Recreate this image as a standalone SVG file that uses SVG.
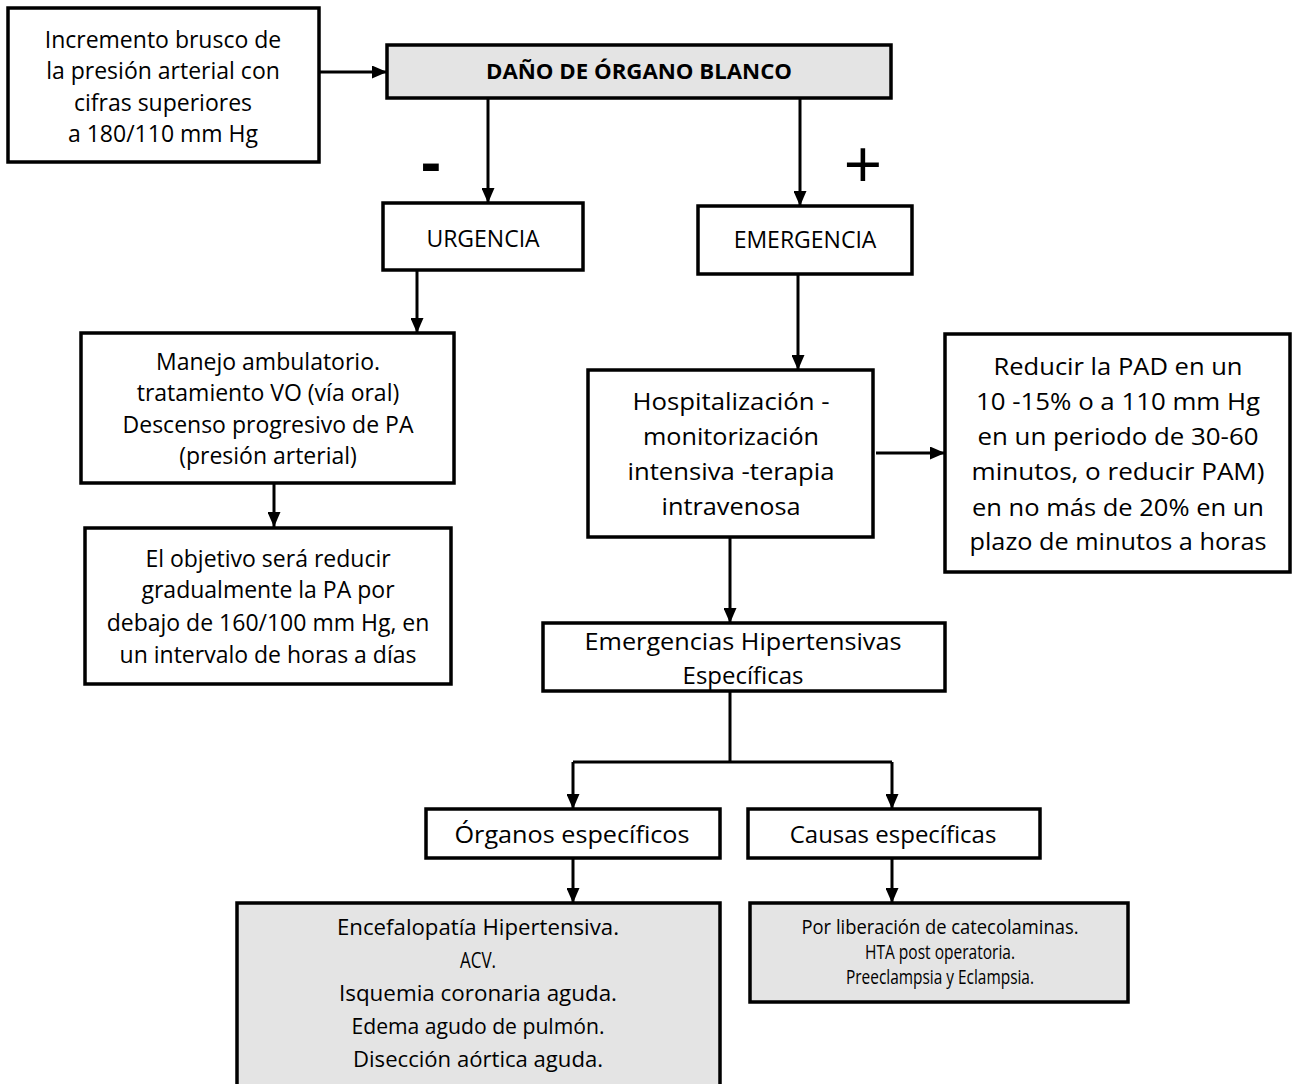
<svg xmlns="http://www.w3.org/2000/svg" width="1295" height="1084" viewBox="0 0 1295 1084">
<style>
.box{fill:#ffffff;stroke:#000000;stroke-width:3.5}
.gray{fill:#e4e4e4;stroke:#000000;stroke-width:3.5}
.t{font-family:"Open Sans","Liberation Sans",sans-serif;font-size:23px;text-anchor:middle;fill:#000000}
.m{font-size:24px}
.s{font-size:21px}
.xs{font-size:20px}
.b{font-weight:bold;font-size:21px}
.edge{stroke:#000000;stroke-width:3;fill:none}
</style>
<defs>
<marker id="ah" viewBox="0 0 15 13" refX="15" refY="6.5" markerWidth="15" markerHeight="13" markerUnits="userSpaceOnUse" orient="auto">
<path d="M0,0 L15,6.5 L0,13 z" fill="#000000"/>
</marker>
</defs>
<rect width="1295" height="1084" fill="#ffffff"/>

<g id="connectors">
<path class="edge" d="M319,72 H387" marker-end="url(#ah)"/>
<path class="edge" d="M488,98 V203" marker-end="url(#ah)"/>
<path class="edge" d="M800,98 V206" marker-end="url(#ah)"/>
<path class="edge" d="M417,270 V333" marker-end="url(#ah)"/>
<path class="edge" d="M274,483 V527" marker-end="url(#ah)"/>
<path class="edge" d="M798,274 V370" marker-end="url(#ah)"/>
<path class="edge" d="M876,453 H945" marker-end="url(#ah)"/>
<path class="edge" d="M730,537 V623" marker-end="url(#ah)"/>
<path class="edge" d="M730,691 V762 M573,762 H892"/>
<path class="edge" d="M573,762 V809" marker-end="url(#ah)"/>
<path class="edge" d="M892,762 V809" marker-end="url(#ah)"/>
<path class="edge" d="M573,858 V903" marker-end="url(#ah)"/>
<path class="edge" d="M892,858 V903" marker-end="url(#ah)"/>
</g>

<g id="n-incremento">
<rect class="box" x="8" y="8" width="311" height="154"/>
<text class="t" x="163" y="48">Incremento brusco de</text>
<text class="t" x="163" y="79">la presión arterial con</text>
<text class="t" x="163" y="111">cifras superiores</text>
<text class="t" x="163" y="142">a 180/110 mm Hg</text>
</g>

<g id="n-dano">
<rect class="gray" x="387" y="45" width="504" height="53"/>
<text class="t b" x="639" y="79" textLength="306" lengthAdjust="spacingAndGlyphs">DAÑO DE ÓRGANO BLANCO</text>
</g>

<g id="sign-minus"><text class="t" x="431" y="184" style="font-size:60px;font-weight:bold">-</text></g>
<g id="sign-plus"><text class="t" x="863" y="189" style="font-size:68px">+</text></g>

<g id="n-urgencia">
<rect class="box" x="383" y="203" width="200" height="67"/>
<text class="t" x="483" y="247">URGENCIA</text>
</g>

<g id="n-emergencia">
<rect class="box" x="698" y="206" width="214" height="68"/>
<text class="t" x="805" y="248">EMERGENCIA</text>
</g>

<g id="n-manejo">
<rect class="box" x="81" y="333" width="373" height="150"/>
<text class="t" x="268" y="370">Manejo ambulatorio.</text>
<text class="t" x="268" y="401">tratamiento VO (vía oral)</text>
<text class="t" x="268" y="433">Descenso progresivo de PA</text>
<text class="t" x="268" y="464">(presión arterial)</text>
</g>

<g id="n-objetivo">
<rect class="box" x="85" y="528" width="366" height="156"/>
<text class="t" x="268" y="567">El objetivo será reducir</text>
<text class="t" x="268" y="598">gradualmente la PA por</text>
<text class="t" x="268" y="631">debajo de 160/100 mm Hg, en</text>
<text class="t" x="268" y="663">un intervalo de horas a días</text>
</g>

<g id="n-hosp">
<rect class="box" x="588" y="370" width="285" height="167"/>
<text class="t m" x="731" y="410" textLength="197" lengthAdjust="spacingAndGlyphs">Hospitalización -</text>
<text class="t m" x="731" y="445" textLength="176" lengthAdjust="spacingAndGlyphs">monitorización</text>
<text class="t m" x="731" y="480" textLength="207" lengthAdjust="spacingAndGlyphs">intensiva -terapia</text>
<text class="t m" x="731" y="515" textLength="139" lengthAdjust="spacingAndGlyphs">intravenosa</text>
</g>

<g id="n-reducir">
<rect class="box" x="945" y="334" width="345" height="238"/>
<text class="t m" x="1118" y="375" textLength="249" lengthAdjust="spacingAndGlyphs">Reducir la PAD en un</text>
<text class="t m" x="1118" y="410" textLength="284" lengthAdjust="spacingAndGlyphs">10 -15% o a 110 mm Hg</text>
<text class="t m" x="1118" y="445" textLength="281" lengthAdjust="spacingAndGlyphs">en un periodo de 30-60</text>
<text class="t m" x="1118" y="480" textLength="293" lengthAdjust="spacingAndGlyphs">minutos, o reducir PAM)</text>
<text class="t m" x="1118" y="516" textLength="292" lengthAdjust="spacingAndGlyphs">en no más de 20% en un</text>
<text class="t m" x="1118" y="550" textLength="297" lengthAdjust="spacingAndGlyphs">plazo de minutos a horas</text>
</g>

<g id="n-emerg-hip">
<rect class="box" x="543" y="623" width="402" height="68"/>
<text class="t m" x="743" y="650" textLength="317" lengthAdjust="spacingAndGlyphs">Emergencias Hipertensivas</text>
<text class="t m" x="743" y="684">Específicas</text>
</g>

<g id="n-organos">
<rect class="box" x="426" y="809" width="294" height="49"/>
<text class="t m" x="572" y="843" textLength="235" lengthAdjust="spacingAndGlyphs">Órganos específicos</text>
</g>

<g id="n-causas">
<rect class="box" x="748" y="809" width="292" height="49"/>
<text class="t m" x="893" y="843">Causas específicas</text>
</g>

<g id="n-organos-list">
<rect class="gray" x="237" y="903" width="483" height="200"/>
<text class="t s" x="478" y="935" textLength="282" lengthAdjust="spacingAndGlyphs">Encefalopatía Hipertensiva.</text>
<text class="t s" x="478" y="968" textLength="36" lengthAdjust="spacingAndGlyphs">ACV.</text>
<text class="t s" x="478" y="1001" textLength="278" lengthAdjust="spacingAndGlyphs">Isquemia coronaria aguda.</text>
<text class="t s" x="478" y="1034" textLength="253" lengthAdjust="spacingAndGlyphs">Edema agudo de pulmón.</text>
<text class="t s" x="478" y="1067" textLength="250" lengthAdjust="spacingAndGlyphs">Disección aórtica aguda.</text>
</g>

<g id="n-causas-list">
<rect class="gray" x="750" y="903" width="378" height="99"/>
<text class="t xs" x="940" y="934" textLength="277" lengthAdjust="spacingAndGlyphs">Por liberación de catecolaminas.</text>
<text class="t xs" x="940" y="959" textLength="150" lengthAdjust="spacingAndGlyphs">HTA post operatoria.</text>
<text class="t xs" x="940" y="984" textLength="188" lengthAdjust="spacingAndGlyphs">Preeclampsia y Eclampsia.</text>
</g>
</svg>
